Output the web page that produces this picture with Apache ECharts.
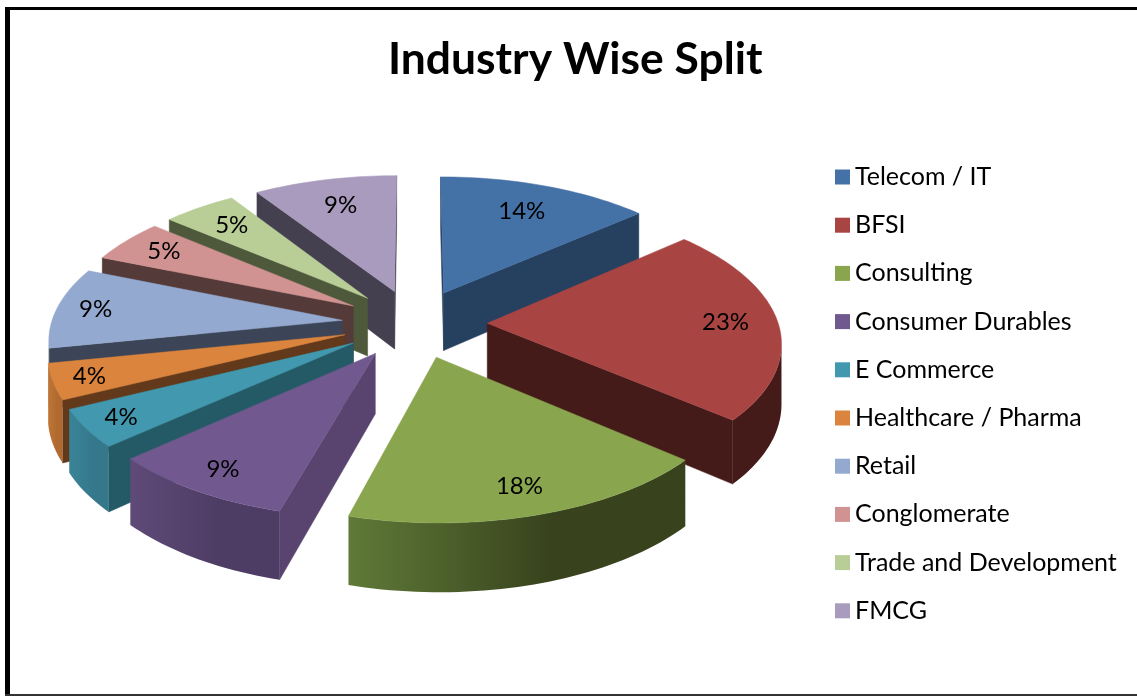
<!DOCTYPE html>
<html>
<head>
<meta charset="utf-8">
<title>Industry Wise Split</title>
<script src="https://cdn.jsdelivr.net/npm/echarts@6/dist/echarts.min.js"></script>
<style>
    html, body { margin: 0; padding: 0; background: #fff; }
    #main { width: 1137px; height: 696px; }
</style>
</head>
<body>
<div id="main"></div>
<script>
var categories = ['Telecom / IT', 'BFSI', 'Consulting', 'Consumer Durables', 'E Commerce',
    'Healthcare / Pharma', 'Retail', 'Conglomerate', 'Trade and Development', 'FMCG'];
var shares = [13.5, 22.8, 18, 9, 4.4, 4.1, 9.4, 5, 4.7, 9.1];

// colours of the faces: top, cut side, rim light, rim dark
var topColors  = ['#4471a6', '#a84442', '#89a54e', '#71588f', '#4198af', '#db843d', '#93a9cf', '#d19392', '#b9cd96', '#a99bbd'];
var sideColors = ['#264060', '#451b19', '#38431d', '#58446f', '#235a66', '#62391a', '#3c4457', '#553a3a', '#4e583a', '#45404f'];
var rimLight   = ['#264060', '#451b19', '#5f7a38', '#5f4a78', '#3a8498', '#c07535', '#3c4457', '#553a3a', '#4e583a', '#45404f'];
var rimDark    = ['#264060', '#451b19', '#38431d', '#4d3c64', '#35788c', '#b06a30', '#3c4457', '#553a3a', '#4e583a', '#45404f'];

// view of the tilted pie
var cx = 414.5, cy = 323.5, radiusX = 291, radiusY = 137, depth = 59, perspective = 0.12, explode = 0.25;

function project(x, y, z) {
    var s = 1 / (1 - perspective * y);
    return [cx + radiusX * x * s, cy + radiusY * y * s + depth * z * s];
}

function visibleFace(a, b, c, d) {
    var pts = [a, b, c, d], sum = 0;
    for (var i = 0; i < 4; i++) {
        var p = pts[i], q = pts[(i + 1) % 4];
        sum += p[0] * q[1] - q[0] * p[1];
    }
    return sum < 0;
}

function renderSlice(i) {
    return function (params, api) {
        var start = api.value(0) / 100 * Math.PI * 2;
        var end = (api.value(0) + api.value(1)) / 100 * Math.PI * 2;
        var mid = (start + end) / 2;
        var ox = explode * Math.sin(mid), oy = -explode * Math.cos(mid);
        var rim = function (t, z, r) {
            var rr = r === undefined ? 1 : r;
            return project(ox + rr * Math.sin(t), oy - rr * Math.cos(t), z);
        };
        var apexTop = project(ox, oy, 0), apexBot = project(ox, oy, 1);
        var children = [];
        var steps = Math.max(6, Math.round((end - start) * 40));
        var topPts = [apexTop], stripTop = [], stripBot = [];

        for (var n = 0; n <= steps; n++) {
            var t = start + (end - start) * n / steps;
            topPts.push(rim(t, 0));
            if (n < steps) {
                var t2 = start + (end - start) * (n + 1) / steps;
                if (visibleFace(rim(t, 0), rim(t2, 0), rim(t2, 1), rim(t, 1))) {
                    if (!stripTop.length) { stripTop.push(rim(t, 0)); stripBot.push(rim(t, 1)); }
                    stripTop.push(rim(t2, 0));
                    stripBot.push(rim(t2, 1));
                }
            }
        }

        var wall = function (a, b, c, d) {
            if (visibleFace(a, b, c, d)) {
                children.push({
                    type: 'polygon',
                    shape: {points: [a, b, c, d]},
                    style: {fill: sideColors[i], stroke: sideColors[i], lineWidth: 0.5}
                });
            }
        };
        wall(apexTop, rim(start, 0), rim(start, 1), apexBot);
        wall(rim(end, 0), apexTop, apexBot, rim(end, 1));

        if (stripTop.length) {
            children.push({
                type: 'polygon',
                shape: {points: stripTop.concat(stripBot.reverse())},
                style: {
                    fill: new echarts.graphic.LinearGradient(0, 0, 1, 0, [
                        {offset: 0, color: rimLight[i]},
                        {offset: 0.6, color: rimDark[i]},
                        {offset: 1, color: rimDark[i]}
                    ])
                }
            });
        }

        children.push({
            type: 'polygon',
            shape: {points: topPts},
            style: {fill: topColors[i], stroke: topColors[i], lineWidth: 0.5}
        });

        // labels sit further out on the near side and on the left
        var sin = Math.sin(mid);
        var at = rim(mid, 0, 0.79 - 0.05 * Math.cos(mid) + 0.055 * sin * sin - 0.025 * sin);
        children.push({
            type: 'text',
            style: {
                text: Math.round(api.value(1)) + '%',
                x: at[0],
                y: at[1],
                fill: '#000',
                font: '24px Lato',
                align: 'center',
                verticalAlign: 'middle'
            }
        });
        return {type: 'group', children: children};
    };
}

var series = [];
var running = 0;
for (var i = 0; i < categories.length; i++) {
    var bisect = (running + shares[i] / 2) / 100 * Math.PI * 2;
    series.push({
        name: categories[i],
        type: 'custom',
        coordinateSystem: 'none',
        silent: true,
        z: 10 - Math.cos(bisect) * 5,
        itemStyle: {color: topColors[i]},
        renderItem: renderSlice(i),
        data: [[running, shares[i]]]
    });
    running += shares[i];
}

var option = {
    backgroundColor: '#fff',
    animation: false,
    title: {
        text: 'Industry Wise Split',
        left: 383,
        top: 33,
        textStyle: {fontFamily: 'Lato', fontWeight: 'bold', fontSize: 44.4, color: '#000'}
    },
    legend: {
        data: categories,
        orient: 'vertical',
        left: 835,
        top: 164.5,
        padding: 0,
        icon: 'rect',
        itemWidth: 15,
        itemHeight: 15,
        itemGap: 23.2,
        selectedMode: false,
        textStyle: {fontFamily: 'Lato', fontSize: 25, lineHeight: 24, color: '#000'}
    },
    graphic: [
        {type: 'rect', shape: {x: 5, y: 7, width: 5, height: 689}, style: {fill: '#000'}, z: 100},
        {type: 'rect', shape: {x: 5, y: 7, width: 1132, height: 3}, style: {fill: '#000'}, z: 100},
        {type: 'rect', shape: {x: 5, y: 694, width: 1132, height: 2}, style: {fill: '#333'}, z: 100}
    ],
    series: series
};
var myChart = echarts.init(document.getElementById('main'));
myChart.setOption(option);
</script>
</body>
</html>
